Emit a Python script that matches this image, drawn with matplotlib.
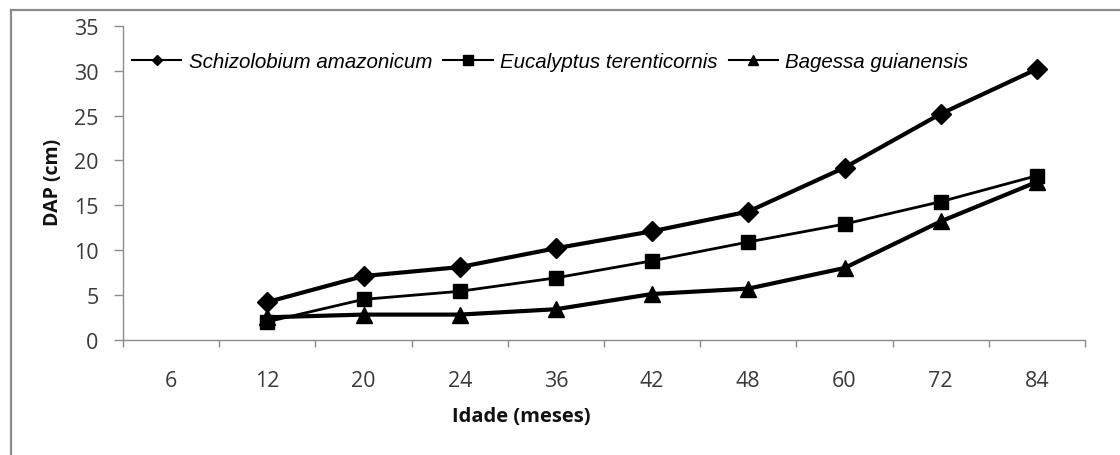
import numpy as np
import matplotlib
matplotlib.use("Agg")
import matplotlib.pyplot as plt
from matplotlib.lines import Line2D

categories = ['6', '12', '20', '24', '36', '42', '48', '60', '72', '84']
schizolobium = [np.nan, 4.2, 7.1, 8.1, 10.2, 12.1, 14.3, 19.2, 25.2, 30.2]
eucalyptus = [np.nan, 2.0, 4.5, 5.4, 6.9, 8.8, 10.9, 12.9, 15.4, 18.3]
bagessa = [np.nan, 2.5, 2.8, 2.8, 3.4, 5.1, 5.7, 8.0, 13.2, 17.6]
series_names = ['Schizolobium amazonicum', 'Eucalyptus terenticornis', 'Bagessa guianensis']
y_ticks = [0, 5, 10, 15, 20, 25, 30, 35]

W, H = 1120, 456
fig = plt.figure(figsize=(W / 100, H / 100), dpi=100)
ax = fig.add_axes([123 / W, 1 - 340.7 / H, (1085 - 123) / W, (340.7 - 27) / H])

x = np.arange(len(categories))
ax.plot(x, schizolobium, color='black', lw=3.0, marker='D', markersize=10, zorder=3)
ax.plot(x, eucalyptus, color='black', lw=2.0, marker='s', markersize=9.5, zorder=3)
ax.plot(x, bagessa, color='black', lw=3.0, marker='^', markersize=12, zorder=3)

ax.set_xlim(-0.5, len(categories) - 0.5)
ax.set_ylim(0, 35)
ax.set_yticks(y_ticks)
ax.set_xticks(x)
ax.set_xticklabels(categories)
# category boundary ticks
ax.set_xticks(np.arange(len(categories) + 1) - 0.5, minor=True)
ax.tick_params(axis='x', which='major', length=0, pad=22)
ax.tick_params(axis='x', which='minor', length=5, width=1, color='#8c8c8c')
ax.tick_params(axis='y', length=6.5, width=1, color='#8c8c8c', pad=11)
for lab in ax.get_xticklabels() + ax.get_yticklabels():
    lab.set_fontfamily('Open Sans')
    lab.set_fontsize(15.5)
    lab.set_color('#3a3a3a')

for s in ['top', 'right']:
    ax.spines[s].set_visible(False)
for s in ['left', 'bottom']:
    ax.spines[s].set_color('#8c8c8c')
    ax.spines[s].set_linewidth(1)

ax.set_xlabel('Idade (meses)', fontfamily='Open Sans', fontweight='bold', fontsize=14.5, color='#111111')
ax.xaxis.set_label_coords((521 - 123) / 962, -(417 - 340.7) / 313.7)
ax.xaxis.label.set_verticalalignment('center')
ax.set_ylabel('DAP (cm)', fontfamily='Open Sans', fontweight='bold', fontsize=14, color='#111111')
ax.yaxis.set_label_coords(-(123 - 53) / 962, (340.7 - 182) / 313.7)
ax.yaxis.label.set_verticalalignment('center')

handles = [
    Line2D([], [], color='black', lw=1.5, marker='D', markersize=5),
    Line2D([], [], color='black', lw=1.5, marker='s', markersize=6.5),
    Line2D([], [], color='black', lw=1.5, marker='^', markersize=7),
]
leg = fig.legend(handles, series_names, loc='center left',
                 bbox_to_anchor=(132 / W, 1 - 62.5 / H), ncol=3, frameon=False,
                 borderpad=0, borderaxespad=0, handlelength=2.4, handletextpad=0.35,
                 columnspacing=0.55, prop={'family': 'Liberation Sans', 'style': 'italic', 'size': 14.8})

# outer frame (left and top)
fig.add_artist(Line2D([10.5 / W, 10.5 / W], [0, 1 - 11 / H], color='#8c8c8c', lw=1.6))
fig.add_artist(Line2D([10.5 / W, 1], [1 - 11 / H, 1 - 11 / H], color='#8c8c8c', lw=1.6))

fig.savefig('out.png', dpi=100)
